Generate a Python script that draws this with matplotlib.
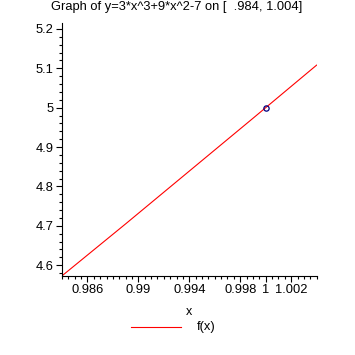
import matplotlib
matplotlib.use("Agg")
import matplotlib.pyplot as plt
from matplotlib.lines import Line2D
from matplotlib.ticker import MultipleLocator

plt.rcParams['font.family'] = ['Liberation Sans', 'DejaVu Sans']

# data
x_vals = [0.984, 0.989, 0.994, 0.999, 1.004]
y_vals = [4.573, 4.705, 4.839, 4.973, 5.108]
pt_x = [1.0]
pt_y = [5.0]
xticks = [0.986, 0.99, 0.994, 0.998, 1.0, 1.002]
xtick_labels = ["0.986", "0.99", "0.994", "0.998", "1", "1.002"]
yticks = [4.6, 4.7, 4.8, 4.9, 5.0, 5.1, 5.2]
ytick_labels = ["4.6", "4.7", "4.8", "4.9", "5", "5.1", "5.2"]

fig = plt.figure(figsize=(3.55, 3.55), dpi=100)
ax = fig.add_axes([62/355, 1-276/355, (316.6-62)/355, (276-23)/355])
ax.plot(x_vals, y_vals, color='#ff0000', lw=0.8)
ax.plot(pt_x, pt_y, 'o', ms=3.8, mfc='none', mec='#000080', mew=0.9)

ax.set_xlim(0.984, 1.004)
ax.set_ylim(4.5726, 5.215)
for s in ['top', 'right']:
    ax.spines[s].set_visible(False)
for s in ['left', 'bottom']:
    ax.spines[s].set_linewidth(0.8)

ax.set_xticks(xticks)
ax.set_xticklabels(xtick_labels)
ax.set_yticks(yticks)
ax.set_yticklabels(ytick_labels)
ax.xaxis.set_minor_locator(MultipleLocator(0.0005))
ax.yaxis.set_minor_locator(MultipleLocator(0.02))
ax.tick_params(which='major', length=4, width=0.8, labelsize=9.3, pad=2)
ax.tick_params(which='minor', length=2, width=0.8)

ax.set_xlabel("x", fontsize=9, labelpad=7)
fig.suptitle("Graph of y=3*x^3+9*x^2-7 on [  .984, 1.004]", fontsize=9.3,
             x=177/355, y=1-7/355, va='center', ha='center')

fig.add_artist(Line2D([131/355, 181/355], [1-327/355, 1-327/355], color='#ff0000', lw=0.8))
fig.text(197/355, 1-327/355, "f(x)", fontsize=9.3, va='center', ha='left')

fig.savefig("out.png", dpi=100)
